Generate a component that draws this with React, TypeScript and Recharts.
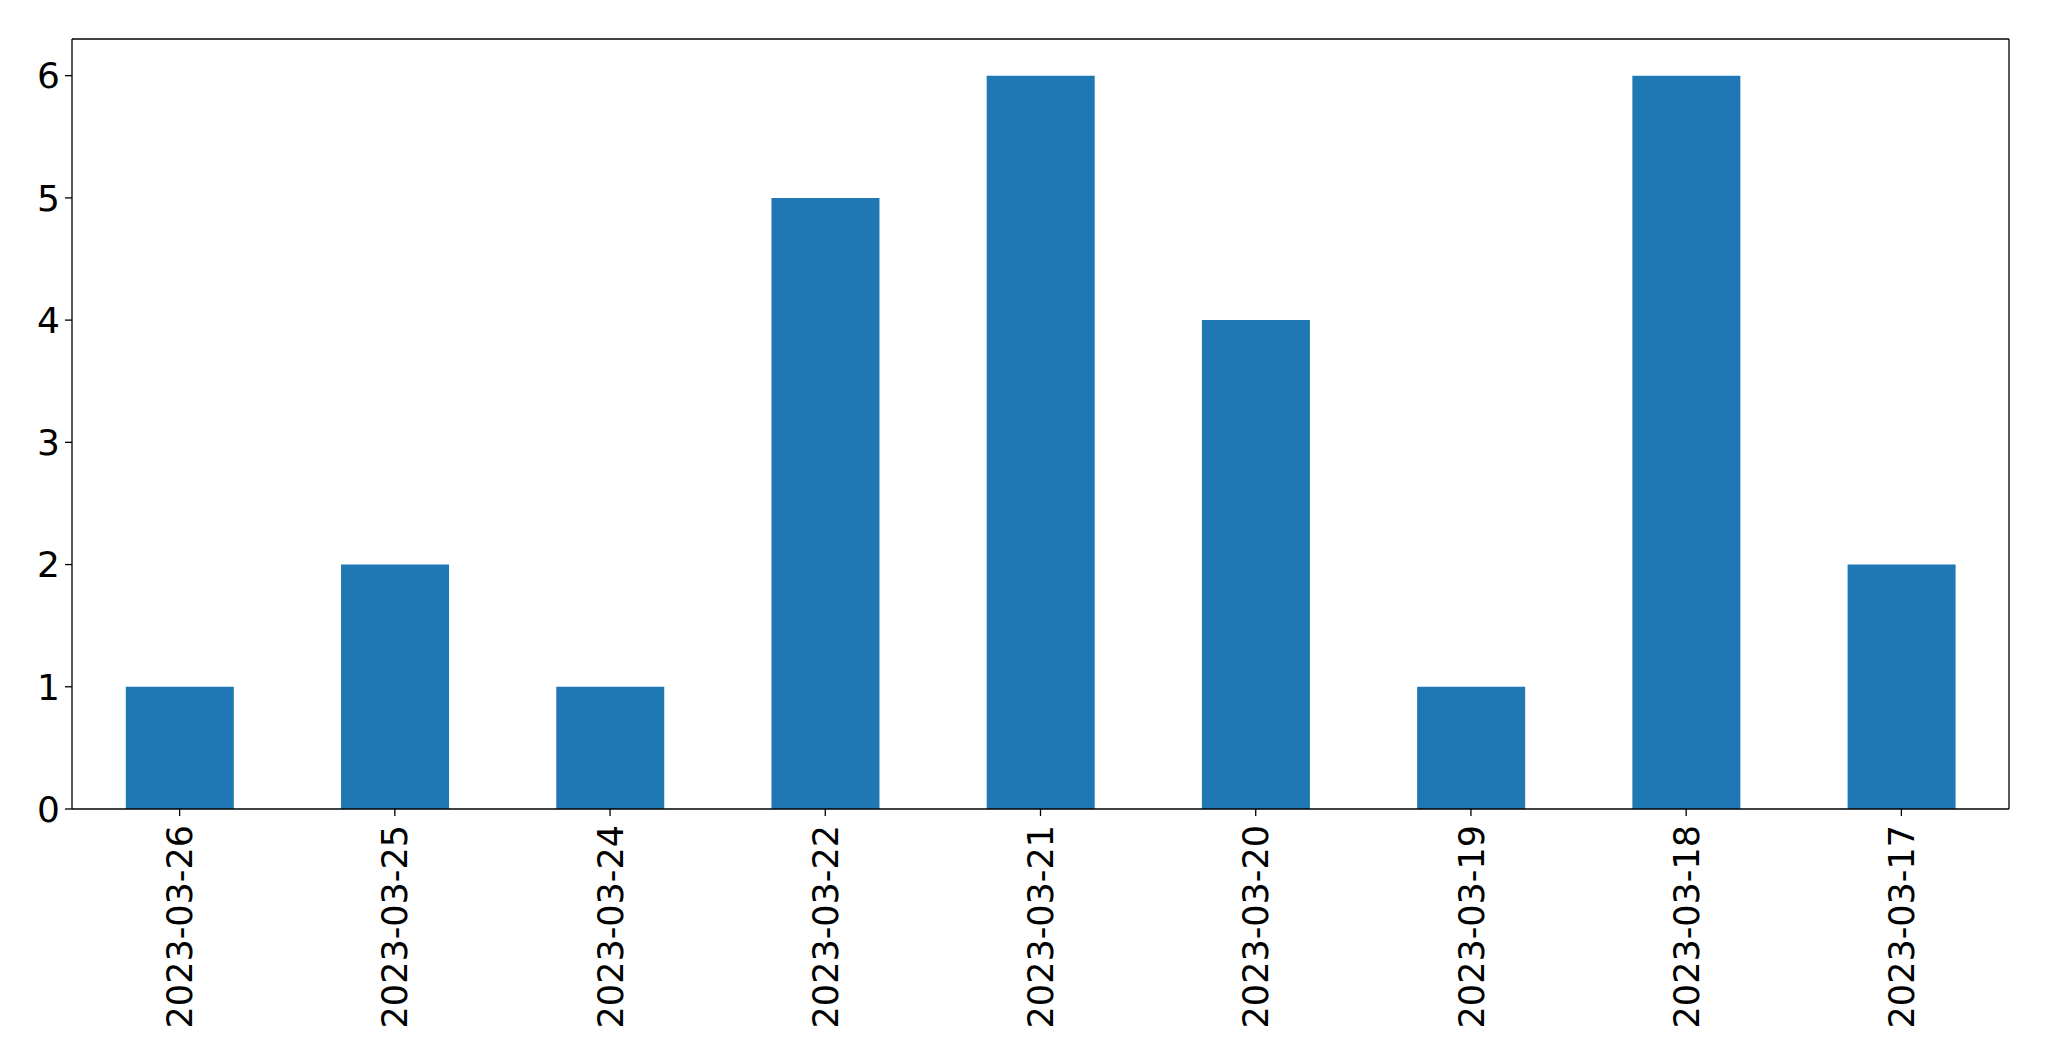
import { BarChart, Bar, XAxis, YAxis, CartesianGrid } from "recharts";

const dates = [
  "2023-03-26",
  "2023-03-25",
  "2023-03-24",
  "2023-03-22",
  "2023-03-21",
  "2023-03-20",
  "2023-03-19",
  "2023-03-18",
  "2023-03-17",
];
const counts = [1, 2, 1, 5, 6, 4, 1, 6, 2];
const yTicks = [0, 1, 2, 3, 4, 5, 6];

const data = dates.map((date, i) => ({ date, count: counts[i] }));

const FONT = "DejaVu Sans, sans-serif";

function DateTick({ x, y, payload }: any) {
  return (
    <g transform={`translate(${x},${y})`}>
      <text
        transform="rotate(-90)"
        textAnchor="end"
        dy="0.36em"
        fontSize={35}
        fontFamily={FONT}
        fill="#000"
      >
        {payload.value}
      </text>
    </g>
  );
}

export default function App() {
  return (
    <div style={{ position: "absolute", left: 0, top: 0, background: "#fff" }}>
      <BarChart
        width={2049}
        height={1061}
        data={data}
        margin={{ top: 39, right: 40, left: 0, bottom: 0 }}
        barCategoryGap="25%"
      >
        {/* top and right frame lines */}
        <CartesianGrid
          stroke="#000"
          strokeWidth={1.3}
          horizontalCoordinatesGenerator={({ offset }: any) => [offset.top]}
          verticalCoordinatesGenerator={({ offset }: any) => [offset.left + offset.width]}
        />
        <XAxis
          dataKey="date"
          height={252}
          interval={0}
          tick={<DateTick />}
          tickSize={7}
          tickMargin={9}
          axisLine={{ stroke: "#000", strokeWidth: 1.3 }}
          tickLine={{ stroke: "#000", strokeWidth: 1.3 }}
        />
        <YAxis
          width={72}
          domain={[0, 6.3]}
          ticks={yTicks}
          interval={0}
          tickSize={7}
          tickMargin={5}
          tick={{ fontSize: 36, fontFamily: FONT, fill: "#000" }}
          axisLine={{ stroke: "#000", strokeWidth: 1.3 }}
          tickLine={{ stroke: "#000", strokeWidth: 1.3 }}
        />
        <Bar dataKey="count" fill="#1f77b4" isAnimationActive={false} />
      </BarChart>
    </div>
  );
}
